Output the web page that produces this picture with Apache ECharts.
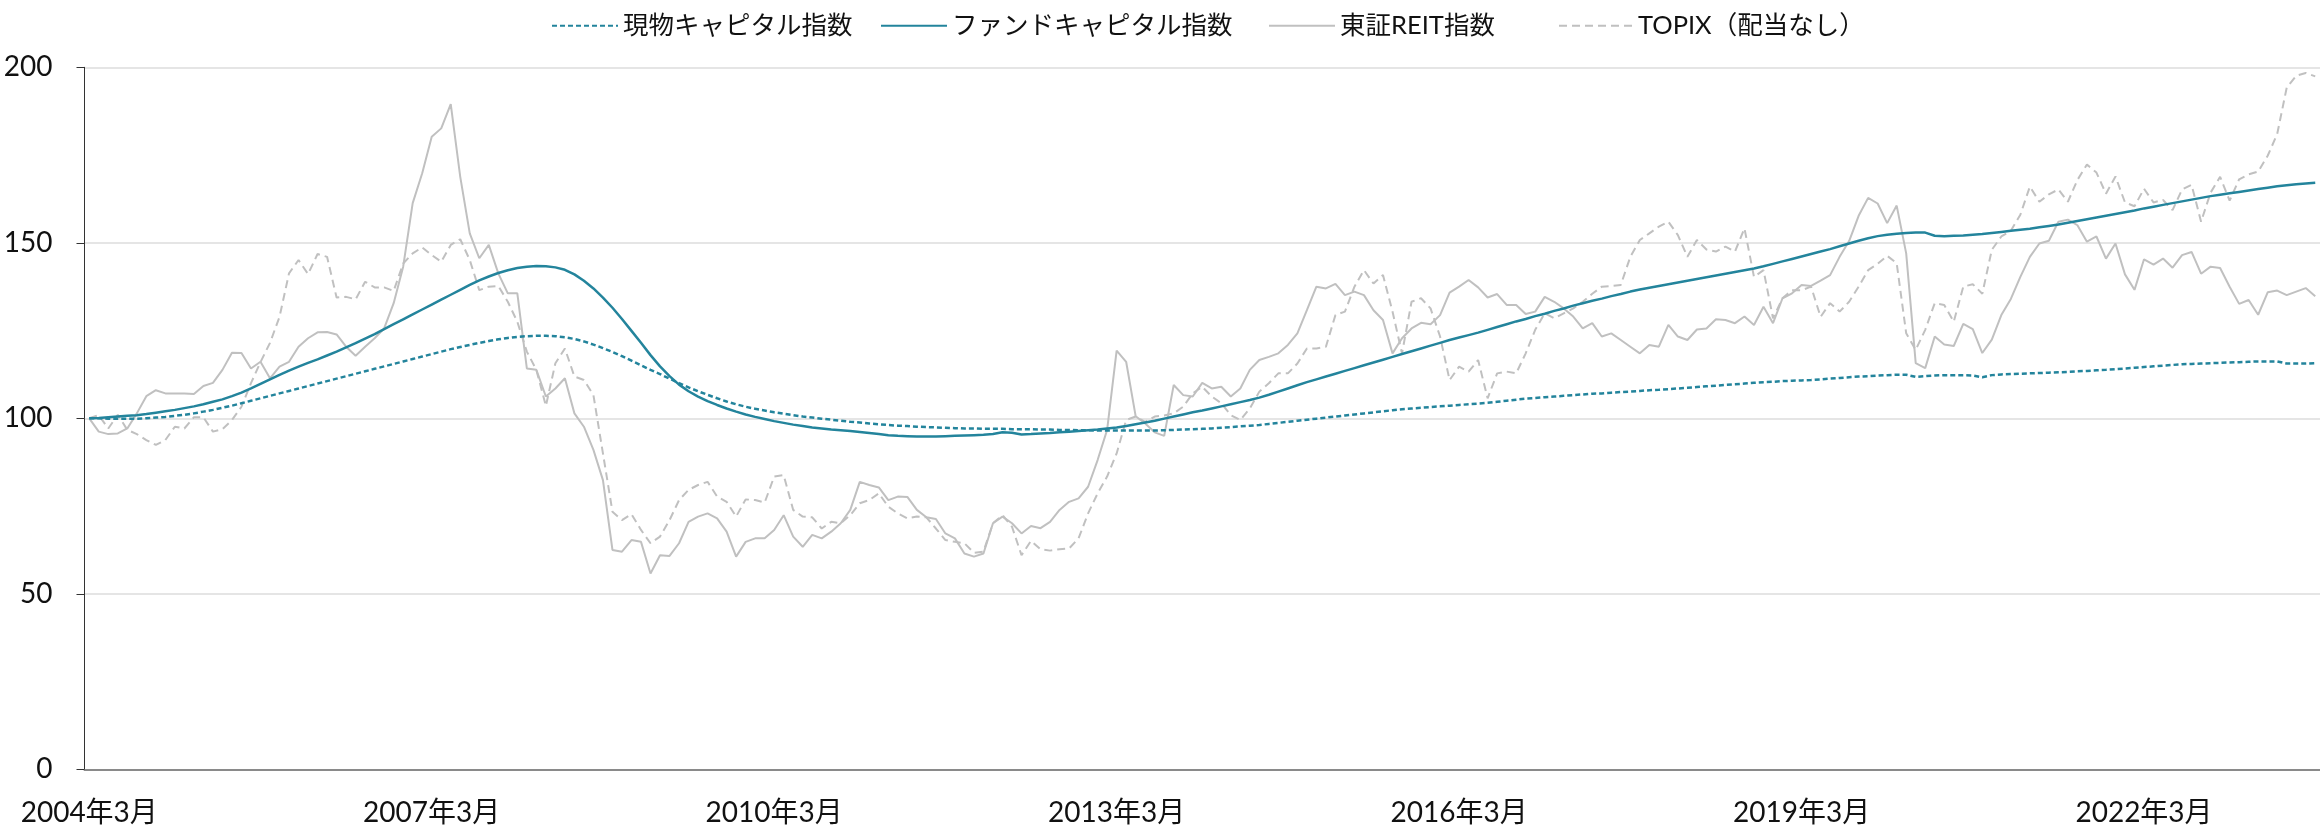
<!DOCTYPE html>
<html>
<head>
<meta charset="utf-8">
<script src="https://cdn.jsdelivr.net/npm/echarts@6/dist/echarts.min.js"></script>
<style>
  html, body { margin: 0; padding: 0; background: #fff; }
  #chart { width: 2320px; height: 834px; }
</style>
</head>
<body>
<div id="chart"></div>
<script>
// 月次 2004年3月 〜 2023年9月
var startYear = 2004, startMonth = 3, monthCount = 235;
var months = [];
for (var k = 0; k < monthCount; k++) {
  var m = startMonth - 1 + k;
  months.push((startYear + Math.floor(m / 12)) + '年' + (m % 12 + 1) + '月');
}

var yTicks = [0, 50, 100, 150, 200];

// 現物キャピタル指数
var physical = [
  100.0, 100.0, 99.9, 99.9, 99.9, 99.9, 100.0, 100.2, 100.4, 100.7, 101.0, 101.4,
  101.9, 102.4, 103.0, 103.6, 104.3, 105.0, 105.7, 106.4, 107.1, 107.8, 108.5, 109.2,
  109.9, 110.6, 111.3, 112.0, 112.7, 113.4, 114.1, 114.8, 115.5, 116.2, 116.9, 117.6,
  118.3, 119.0, 119.7, 120.3, 120.9, 121.5, 122.0, 122.5, 122.9, 123.2, 123.4, 123.5,
  123.5, 123.4, 123.1, 122.6, 121.9, 121.0, 120.0, 118.9, 117.7, 116.4, 115.1, 113.8,
  112.6, 111.3, 110.0, 108.8, 107.7, 106.7, 105.7, 104.8, 104.0, 103.3, 102.7, 102.2,
  101.7, 101.3, 100.9, 100.5, 100.2, 99.9, 99.6, 99.3, 99.0, 98.8, 98.5, 98.3,
  98.1, 97.9, 97.8, 97.6, 97.5, 97.4, 97.3, 97.2, 97.1, 97.1, 97.0, 97.0,
  97.0, 96.9, 96.9, 96.9, 96.8, 96.8, 96.7, 96.7, 96.6, 96.6, 96.5, 96.5,
  96.5, 96.5, 96.5, 96.5, 96.5, 96.6, 96.7, 96.8, 96.9, 97.0, 97.1, 97.3,
  97.5, 97.7, 97.9, 98.1, 98.4, 98.7, 99.0, 99.3, 99.6, 99.9, 100.2, 100.5,
  100.8, 101.1, 101.4, 101.7, 102.0, 102.3, 102.6, 102.8, 103.0, 103.2, 103.4, 103.6,
  103.8, 104.0, 104.2, 104.4, 104.7, 105.0, 105.3, 105.6, 105.8, 106.0, 106.2, 106.4,
  106.6, 106.8, 107.0, 107.1, 107.3, 107.5, 107.6, 107.8, 108.0, 108.1, 108.3, 108.5,
  108.7, 108.9, 109.1, 109.3, 109.5, 109.7, 109.9, 110.1, 110.3, 110.4, 110.6, 110.7,
  110.8, 110.9, 111.1, 111.3, 111.5, 111.7, 111.9, 112.0, 112.2, 112.3, 112.4, 112.4,
  111.8, 112.0, 112.2, 112.3, 112.3, 112.3, 112.2, 111.7, 112.3, 112.5, 112.6, 112.7,
  112.8, 112.9, 113.0, 113.1, 113.2, 113.4, 113.5, 113.7, 113.8, 114.0, 114.2, 114.4,
  114.6, 114.8, 115.0, 115.2, 115.4, 115.5, 115.6, 115.7, 115.8, 115.9, 116.0, 116.1,
  116.2, 116.2, 116.2, 115.6, 115.6, 115.6, 115.7
];

// ファンドキャピタル指数
var fund = [
  100.0, 100.1, 100.3, 100.5, 100.7, 100.9, 101.2, 101.6, 102.0, 102.4, 102.9, 103.4,
  104.0, 104.7, 105.4, 106.3, 107.3, 108.5, 109.8, 111.1, 112.4, 113.6, 114.7, 115.8,
  116.8, 117.9, 119.0, 120.2, 121.4, 122.7, 124.0, 125.4, 126.8, 128.2, 129.6, 131.0,
  132.4, 133.8, 135.2, 136.6, 138.0, 139.3, 140.4, 141.4, 142.2, 142.8, 143.2, 143.4,
  143.3, 143.0, 142.3, 141.0, 139.2, 137.0, 134.4, 131.5, 128.3, 124.9, 121.5, 118.0,
  114.8, 112.0, 109.6, 107.7, 106.2, 104.9, 103.8, 102.8, 101.9, 101.1, 100.4, 99.8,
  99.2, 98.7, 98.2, 97.8, 97.4, 97.1, 96.8, 96.6, 96.4, 96.1, 95.8, 95.5,
  95.2, 95.0, 94.9, 94.8, 94.8, 94.8, 94.9, 95.0, 95.1, 95.2, 95.3, 95.5,
  96.0, 95.9, 95.4, 95.5, 95.7, 95.8, 96.0, 96.2, 96.4, 96.6, 96.8, 97.1,
  97.4, 97.8, 98.3, 98.8, 99.3, 99.9, 100.5, 101.1, 101.7, 102.2, 102.8, 103.4,
  104.0, 104.6, 105.2, 105.9, 106.7, 107.6, 108.5, 109.4, 110.3, 111.1, 111.9, 112.7,
  113.5, 114.3, 115.1, 115.9, 116.7, 117.5, 118.3, 119.1, 119.9, 120.7, 121.5, 122.3,
  123.0, 123.7, 124.4, 125.2, 126.0, 126.8, 127.6, 128.3, 129.1, 129.8, 130.6, 131.3,
  132.1, 132.8, 133.5, 134.1, 134.8, 135.4, 136.1, 136.7, 137.2, 137.7, 138.2, 138.7,
  139.2, 139.7, 140.2, 140.7, 141.2, 141.7, 142.2, 142.7, 143.3, 144.0, 144.7, 145.4,
  146.1, 146.8, 147.5, 148.2, 149.0, 149.8, 150.6, 151.3, 151.9, 152.3, 152.6, 152.8,
  152.9, 152.9, 152.0, 151.9, 152.0, 152.1, 152.3, 152.5, 152.8, 153.1, 153.4, 153.7,
  154.0, 154.4, 154.8, 155.2, 155.7, 156.2, 156.7, 157.2, 157.7, 158.2, 158.7, 159.2,
  159.8, 160.3, 160.8, 161.3, 161.8, 162.3, 162.8, 163.3, 163.7, 164.1, 164.5, 164.9,
  165.3, 165.7, 166.1, 166.4, 166.7, 166.9, 167.1
];

// 東証REIT指数
var reit = [
  100.0, 96.2, 95.5, 95.7, 97.1, 101.4, 106.3, 108.0, 107.1, 107.1, 107.1, 106.9,
  109.2, 110.1, 113.8, 118.7, 118.6, 114.2, 116.1, 111.4, 114.7, 116.1, 120.4, 122.8,
  124.5, 124.6, 123.9, 120.4, 117.8, 120.4, 122.8, 125.6, 132.8, 143.2, 161.3, 169.8,
  180.2, 182.6, 189.5, 168.8, 152.7, 145.6, 149.4, 141.3, 135.6, 135.6, 114.2, 113.8,
  106.2, 108.5, 111.4, 101.4, 97.6, 91.0, 82.4, 62.5, 62.0, 65.3, 64.8, 55.8,
  61.0, 60.8, 64.4, 70.5, 72.0, 72.9, 71.5, 67.7, 60.6, 64.8, 65.8, 65.8,
  68.2, 72.4, 66.3, 63.4, 66.8, 65.8, 67.7, 70.1, 73.9, 81.9, 81.0, 80.3,
  76.7, 77.7, 77.6, 73.9, 71.8, 71.3, 67.2, 65.8, 61.5, 60.6, 61.5, 70.1,
  72.0, 70.1, 67.2, 69.3, 68.7, 70.5, 73.9, 76.2, 77.2, 80.5, 88.1, 96.7,
  119.3, 116.1, 100.6, 98.5, 96.0, 95.0, 109.5, 106.6, 106.2, 110.1, 108.5, 109.0,
  106.2, 108.5, 113.8, 116.6, 117.5, 118.5, 120.9, 124.2, 130.8, 137.5, 137.0, 138.3,
  135.1, 136.1, 135.1, 130.8, 128.0, 118.5, 122.8, 125.6, 127.2, 126.8, 129.4, 135.8,
  137.5, 139.4, 137.3, 134.4, 135.4, 132.3, 132.3, 129.7, 130.4, 134.6, 133.2, 131.3,
  129.0, 125.6, 127.1, 123.3, 124.2, 122.3, 120.4, 118.5, 120.9, 120.4, 126.6, 123.3,
  122.3, 125.3, 125.6, 128.2, 128.0, 127.1, 129.0, 126.6, 131.8, 127.1, 134.2, 135.6,
  138.0, 137.7, 139.2, 140.8, 146.0, 150.5, 157.7, 162.8, 161.2, 155.6, 160.6, 147.0,
  115.7, 114.3, 123.3, 121.0, 120.6, 126.9, 125.4, 118.6, 122.4, 129.4, 134.0, 140.3,
  146.0, 149.8, 150.6, 156.0, 156.6, 155.0, 150.3, 151.8, 145.5, 149.8, 141.0, 136.6,
  145.3, 143.8, 145.5, 142.9, 146.5, 147.4, 141.2, 143.2, 142.8, 137.5, 132.6, 133.7,
  129.5, 135.9, 136.4, 135.1, 136.1, 137.1, 134.8
];

// TOPIX（配当なし）
var topix = [
  100.0, 100.9, 97.1, 101.0, 96.7, 95.5, 93.8, 92.4, 93.8, 97.6, 97.1, 100.3,
  100.3, 96.2, 96.9, 99.5, 103.3, 110.0, 116.0, 121.5, 128.9, 141.3, 145.1, 141.1,
  146.8, 146.0, 134.4, 134.6, 133.9, 138.9, 137.3, 137.3, 136.3, 144.1, 147.0, 148.7,
  146.5, 144.6, 149.4, 151.0, 145.1, 136.5, 137.5, 137.7, 133.2, 127.5, 119.0, 113.8,
  103.5, 115.7, 119.9, 111.9, 110.9, 106.6, 90.0, 73.4, 71.0, 72.7, 68.2, 64.4,
  66.3, 71.0, 76.7, 79.6, 81.0, 81.9, 77.7, 76.2, 72.0, 76.9, 76.7, 76.0,
  83.4, 83.8, 73.9, 72.0, 71.8, 68.6, 70.5, 70.1, 72.4, 75.8, 76.7, 78.6,
  74.8, 72.9, 71.5, 72.0, 71.8, 68.6, 65.3, 64.8, 64.4, 61.7, 62.0, 70.1,
  72.4, 69.1, 61.0, 65.1, 62.7, 62.3, 62.7, 62.9, 65.8, 72.9, 78.6, 83.4,
  90.0, 99.5, 100.5, 99.0, 100.5, 100.8, 101.4, 103.3, 107.1, 109.0, 106.2, 104.3,
  100.9, 99.5, 102.8, 107.6, 110.0, 112.8, 112.8, 115.6, 119.9, 119.9, 120.4, 129.4,
  130.4, 137.5, 142.2, 138.4, 140.8, 130.4, 118.5, 133.2, 134.2, 131.3, 123.3, 110.9,
  114.7, 113.3, 116.6, 105.7, 112.8, 113.3, 112.8, 118.5, 125.2, 129.9, 128.5, 129.9,
  131.3, 133.2, 135.5, 137.5, 137.7, 138.0, 146.0, 150.8, 152.7, 154.6, 156.0, 152.2,
  146.0, 150.8, 148.1, 147.5, 148.9, 147.5, 154.1, 140.3, 142.2, 128.5, 134.2, 136.5,
  136.5, 137.5, 128.9, 132.8, 130.4, 133.2, 137.5, 142.2, 144.0, 146.3, 144.2, 124.2,
  119.5, 125.2, 132.8, 132.3, 127.5, 137.5, 138.2, 135.5, 148.0, 151.8, 153.4, 158.0,
  166.0, 161.7, 163.8, 165.2, 161.7, 167.9, 172.3, 170.0, 164.0, 168.9, 161.5, 160.4,
  165.4, 161.5, 162.2, 159.3, 165.2, 166.5, 156.0, 164.3, 168.8, 162.0, 168.1, 169.5,
  170.3, 174.8, 181.0, 194.2, 197.6, 198.4, 197.4
];

var teal = '#23849c';
var gray = '#c0c0c0';
var font = 'Lato, "Noto Sans CJK JP", sans-serif';

// 凡例は項目ごとに位置を合わせる（線だけ表示、丸は消す）
function legendItem(name, left, width) {
  return {
    data: [name],
    left: left,
    top: 8,
    itemWidth: width || 66,
    itemHeight: 14,
    itemStyle: { opacity: 0 },
    textStyle: { fontSize: 25.5, color: '#111', fontFamily: font }
  };
}

var chart = echarts.init(document.getElementById('chart'));
chart.setOption({
  animation: false,
  textStyle: { fontFamily: font },
  grid: { left: 84.5, right: 0, top: 67.3, bottom: 64.7 },
  legend: [
    legendItem('現物キャピタル指数', 546),
    legendItem('ファンドキャピタル指数', 875),
    legendItem('東証REIT指数', 1263),
    legendItem('TOPIX（配当なし）', 1553, 74)
  ],
  xAxis: {
    type: 'category',
    data: months,
    boundaryGap: true,
    axisLine: { lineStyle: { color: '#8a8a8a', width: 2 } },
    axisTick: { interval: 35, length: 9, lineStyle: { color: '#8a8a8a', width: 1 } },
    axisLabel: { interval: 35, fontSize: 28, color: '#111', margin: 30 },
    splitLine: { show: false }
  },
  yAxis: {
    type: 'value',
    min: yTicks[0],
    max: yTicks[yTicks.length - 1],
    interval: 50,
    axisLine: { show: true, lineStyle: { color: '#333', width: 1 } },
    axisTick: { show: true, length: 8, lineStyle: { color: '#333' } },
    axisLabel: { fontSize: 28, color: '#111', margin: 32 },
    splitLine: { lineStyle: { color: '#dcdcdc', width: 1.5 } }
  },
  series: [
    {
      name: '東証REIT指数', type: 'line', data: reit, symbol: 'none',
      lineStyle: { color: gray, width: 2 }, itemStyle: { color: gray }
    },
    {
      name: 'TOPIX（配当なし）', type: 'line', data: topix, symbol: 'none',
      lineStyle: { color: gray, width: 2, type: [8, 5] }, itemStyle: { color: gray }
    },
    {
      name: '現物キャピタル指数', type: 'line', data: physical, symbol: 'none',
      lineStyle: { color: teal, width: 2.5, type: [5, 3] }, itemStyle: { color: teal }
    },
    {
      name: 'ファンドキャピタル指数', type: 'line', data: fund, symbol: 'none',
      lineStyle: { color: teal, width: 2.5 }, itemStyle: { color: teal }
    }
  ]
});
</script>
</body>
</html>
